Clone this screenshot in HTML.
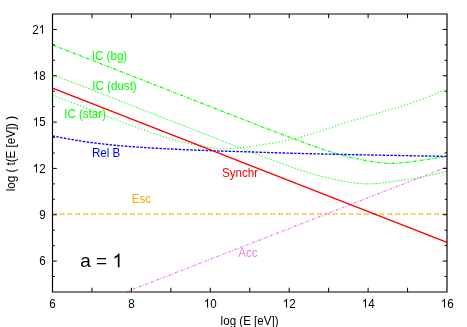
<!DOCTYPE html>
<html><head><meta charset="utf-8"><title>plot</title>
<style>
html,body{margin:0;padding:0;background:#fff;}
body{width:467px;height:327px;overflow:hidden;font-family:"Liberation Sans",sans-serif;}
svg{display:block;will-change:transform;}
</style></head><body>
<svg width="467" height="327" viewBox="0 0 467 327">
<rect width="467" height="327" fill="#fff"/>
<g fill="none" stroke-linecap="butt" stroke-linejoin="round">
<path d="M52.50,44.86 L53.49,45.24 L54.47,45.63 L55.46,46.01 L56.44,46.40 L57.43,46.78 L58.42,47.17 L59.40,47.56 L60.39,47.94 L61.38,48.33 L62.36,48.71 L63.35,49.10 L64.33,49.48 L65.32,49.87 L66.31,50.26 L67.29,50.64 L68.28,51.03 L69.27,51.41 L70.25,51.80 L71.24,52.18 L72.22,52.57 L73.21,52.96 L74.20,53.34 L75.18,53.73 L76.17,54.11 L77.16,54.50 L78.14,54.88 L79.13,55.27 L80.12,55.65 L81.10,56.04 L82.09,56.43 L83.07,56.81 L84.06,57.20 L85.05,57.58 L86.03,57.97 L87.02,58.35 L88.01,58.74 L88.99,59.13 L89.98,59.51 L90.96,59.90 L91.95,60.28 L92.94,60.67 L93.92,61.05 L94.91,61.44 L95.89,61.83 L96.88,62.21 L97.87,62.60 L98.85,62.98 L99.84,63.37 L100.83,63.75 L101.81,64.14 L102.80,64.53 L103.78,64.91 L104.77,65.30 L105.76,65.68 L106.74,66.07 L107.73,66.45 L108.72,66.84 L109.70,67.23 L110.69,67.61 L111.67,68.00 L112.66,68.38 L113.65,68.77 L114.63,69.15 L115.62,69.54 L116.61,69.93 L117.59,70.31 L118.58,70.70 L119.57,71.08 L120.55,71.47 L121.54,71.85 L122.52,72.24 L123.51,72.63 L124.50,73.01 L125.48,73.40 L126.47,73.78 L127.46,74.17 L128.44,74.55 L129.43,74.94 L130.41,75.33 L131.40,75.71 L132.39,76.10 L133.37,76.48 L134.36,76.87 L135.34,77.25 L136.33,77.64 L137.32,78.03 L138.30,78.41 L139.29,78.80 L140.28,79.18 L141.26,79.57 L142.25,79.95 L143.24,80.34 L144.22,80.73 L145.21,81.11 L146.19,81.50 L147.18,81.88 L148.17,82.27 L149.15,82.65 L150.14,83.04 L151.12,83.43 L152.11,83.81 L153.10,84.20 L154.08,84.58 L155.07,84.97 L156.06,85.35 L157.04,85.74 L158.03,86.12 L159.01,86.51 L160.00,86.90 L160.99,87.28 L161.97,87.67 L162.96,88.05 L163.95,88.44 L164.93,88.82 L165.92,89.21 L166.91,89.60 L167.89,89.98 L168.88,90.37 L169.86,90.75 L170.85,91.14 L171.84,91.52 L172.82,91.91 L173.81,92.30 L174.79,92.68 L175.78,93.07 L176.77,93.45 L177.75,93.84 L178.74,94.22 L179.73,94.61 L180.71,95.00 L181.70,95.38 L182.69,95.77 L183.67,96.15 L184.66,96.54 L185.64,96.92 L186.63,97.31 L187.62,97.70 L188.60,98.08 L189.59,98.47 L190.57,98.85 L191.56,99.24 L192.55,99.62 L193.53,100.01 L194.52,100.40 L195.51,100.78 L196.49,101.17 L197.48,101.55 L198.46,101.94 L199.45,102.32 L200.44,102.71 L201.42,103.10 L202.41,103.48 L203.40,103.87 L204.38,104.25 L205.37,104.64 L206.36,105.02 L207.34,105.41 L208.33,105.80 L209.31,106.18 L210.30,106.57 L211.29,106.95 L212.27,107.34 L213.26,107.72 L214.25,108.11 L215.23,108.50 L216.22,108.88 L217.20,109.27 L218.19,109.65 L219.18,110.04 L220.16,110.42 L221.15,110.81 L222.14,111.19 L223.12,111.58 L224.11,111.97 L225.09,112.35 L226.08,112.74 L227.07,113.12 L228.05,113.51 L229.04,113.89 L230.03,114.28 L231.01,114.67 L232.00,115.05 L232.98,115.44 L233.97,115.82 L234.96,116.21 L235.94,116.59 L236.93,116.98 L237.91,117.37 L238.90,117.75 L239.89,118.14 L240.87,118.52 L241.86,118.91 L242.85,119.29 L243.83,119.68 L244.82,120.07 L245.81,120.45 L246.79,120.84 L247.78,121.22 L248.76,121.61 L249.75,121.99 L250.74,122.38 L251.72,122.77 L252.71,123.15 L253.70,123.54 L254.68,123.92 L255.67,124.31 L256.65,124.69 L257.64,125.08 L258.63,125.47 L259.61,125.85 L260.60,126.23 L261.59,126.62 L262.57,127.00 L263.56,127.38 L264.54,127.76 L265.53,128.14 L266.52,128.53 L267.50,128.90 L268.49,129.28 L269.48,129.66 L270.46,130.04 L271.45,130.42 L272.43,130.79 L273.42,131.17 L274.41,131.55 L275.39,131.92 L276.38,132.30 L277.36,132.67 L278.35,133.04 L279.34,133.42 L280.32,133.79 L281.31,134.16 L282.30,134.53 L283.28,134.90 L284.27,135.28 L285.25,135.65 L286.24,136.02 L287.23,136.38 L288.21,136.75 L289.20,137.12 L290.19,137.49 L291.17,137.86 L292.16,138.23 L293.15,138.59 L294.13,138.96 L295.12,139.32 L296.10,139.69 L297.09,140.06 L298.08,140.42 L299.06,140.79 L300.05,141.15 L301.04,141.51 L302.02,141.88 L303.01,142.24 L303.99,142.60 L304.98,142.97 L305.97,143.33 L306.95,143.69 L307.94,144.05 L308.93,144.41 L309.91,144.78 L310.90,145.14 L311.88,145.50 L312.87,145.85 L313.86,146.20 L314.84,146.55 L315.83,146.90 L316.81,147.24 L317.80,147.58 L318.79,147.92 L319.77,148.26 L320.76,148.59 L321.75,148.92 L322.73,149.25 L323.72,149.57 L324.71,149.90 L325.69,150.22 L326.68,150.54 L327.66,150.85 L328.65,151.17 L329.64,151.48 L330.62,151.79 L331.61,152.10 L332.60,152.41 L333.58,152.71 L334.57,153.02 L335.55,153.32 L336.54,153.62 L337.53,153.92 L338.51,154.21 L339.50,154.49 L340.49,154.77 L341.47,155.04 L342.46,155.30 L343.44,155.56 L344.43,155.82 L345.42,156.06 L346.40,156.31 L347.39,156.55 L348.38,156.78 L349.36,157.01 L350.35,157.24 L351.33,157.47 L352.32,157.69 L353.31,157.91 L354.29,158.12 L355.28,158.34 L356.26,158.55 L357.25,158.77 L358.24,158.98 L359.22,159.19 L360.21,159.40 L361.20,159.61 L362.18,159.81 L363.17,160.01 L364.16,160.20 L365.14,160.39 L366.13,160.57 L367.11,160.75 L368.10,160.92 L369.09,161.08 L370.07,161.25 L371.06,161.41 L372.04,161.56 L373.03,161.71 L374.02,161.86 L375.00,162.00 L375.99,162.14 L376.98,162.28 L377.96,162.41 L378.95,162.53 L379.94,162.65 L380.92,162.77 L381.91,162.88 L382.89,162.98 L383.88,163.07 L384.87,163.15 L385.85,163.22 L386.84,163.29 L387.82,163.34 L388.81,163.38 L389.80,163.40 L390.78,163.41 L391.77,163.40 L392.76,163.38 L393.74,163.35 L394.73,163.30 L395.72,163.25 L396.70,163.19 L397.69,163.12 L398.67,163.04 L399.66,162.96 L400.65,162.87 L401.63,162.78 L402.62,162.69 L403.61,162.60 L404.59,162.51 L405.58,162.42 L406.56,162.32 L407.55,162.22 L408.54,162.11 L409.52,161.99 L410.51,161.86 L411.50,161.73 L412.48,161.60 L413.47,161.46 L414.45,161.32 L415.44,161.17 L416.43,161.02 L417.41,160.88 L418.40,160.73 L419.39,160.58 L420.37,160.44 L421.36,160.30 L422.34,160.15 L423.33,160.01 L424.32,159.87 L425.30,159.73 L426.29,159.59 L427.27,159.45 L428.26,159.30 L429.25,159.16 L430.23,159.02 L431.22,158.87 L432.21,158.72 L433.19,158.57 L434.18,158.42 L435.17,158.27 L436.15,158.11 L437.14,157.95 L438.12,157.79 L439.11,157.63 L440.10,157.46 L441.08,157.28 L442.07,157.11 L443.06,156.93 L444.04,156.74 L445.03,156.55 L446.01,156.36 L447.00,156.16" stroke="#00ff00" stroke-width="1.15" stroke-dasharray="3.6 1.2 1 1.4"/>
<path d="M52.50,74.48 L53.49,74.86 L54.47,75.25 L55.46,75.63 L56.44,76.02 L57.43,76.41 L58.42,76.79 L59.40,77.18 L60.39,77.56 L61.38,77.95 L62.36,78.33 L63.35,78.72 L64.33,79.11 L65.32,79.49 L66.31,79.88 L67.29,80.26 L68.28,80.65 L69.27,81.03 L70.25,81.42 L71.24,81.81 L72.22,82.19 L73.21,82.58 L74.20,82.96 L75.18,83.35 L76.17,83.73 L77.16,84.12 L78.14,84.50 L79.13,84.89 L80.12,85.28 L81.10,85.66 L82.09,86.05 L83.07,86.43 L84.06,86.82 L85.05,87.20 L86.03,87.59 L87.02,87.98 L88.01,88.36 L88.99,88.75 L89.98,89.13 L90.96,89.52 L91.95,89.90 L92.94,90.29 L93.92,90.68 L94.91,91.06 L95.89,91.45 L96.88,91.83 L97.87,92.22 L98.85,92.60 L99.84,92.99 L100.83,93.38 L101.81,93.76 L102.80,94.15 L103.78,94.53 L104.77,94.92 L105.76,95.30 L106.74,95.69 L107.73,96.08 L108.72,96.46 L109.70,96.85 L110.69,97.23 L111.67,97.62 L112.66,98.00 L113.65,98.39 L114.63,98.78 L115.62,99.16 L116.61,99.55 L117.59,99.93 L118.58,100.32 L119.57,100.70 L120.55,101.09 L121.54,101.48 L122.52,101.86 L123.51,102.25 L124.50,102.63 L125.48,103.02 L126.47,103.40 L127.46,103.79 L128.44,104.18 L129.43,104.56 L130.41,104.95 L131.40,105.33 L132.39,105.72 L133.37,106.10 L134.36,106.49 L135.34,106.88 L136.33,107.26 L137.32,107.65 L138.30,108.03 L139.29,108.42 L140.28,108.80 L141.26,109.19 L142.25,109.58 L143.24,109.96 L144.22,110.35 L145.21,110.73 L146.19,111.12 L147.18,111.50 L148.17,111.89 L149.15,112.27 L150.14,112.66 L151.12,113.05 L152.11,113.43 L153.10,113.82 L154.08,114.20 L155.07,114.59 L156.06,114.97 L157.04,115.36 L158.03,115.75 L159.01,116.13 L160.00,116.52 L160.99,116.90 L161.97,117.29 L162.96,117.67 L163.95,118.06 L164.93,118.45 L165.92,118.83 L166.91,119.22 L167.89,119.60 L168.88,119.99 L169.86,120.37 L170.85,120.76 L171.84,121.15 L172.82,121.53 L173.81,121.92 L174.79,122.30 L175.78,122.69 L176.77,123.07 L177.75,123.46 L178.74,123.85 L179.73,124.23 L180.71,124.62 L181.70,125.00 L182.69,125.39 L183.67,125.77 L184.66,126.16 L185.64,126.55 L186.63,126.93 L187.62,127.32 L188.60,127.70 L189.59,128.09 L190.57,128.47 L191.56,128.86 L192.55,129.25 L193.53,129.63 L194.52,130.02 L195.51,130.40 L196.49,130.79 L197.48,131.17 L198.46,131.56 L199.45,131.95 L200.44,132.33 L201.42,132.72 L202.41,133.10 L203.40,133.49 L204.38,133.87 L205.37,134.26 L206.36,134.65 L207.34,135.03 L208.33,135.42 L209.31,135.80 L210.30,136.19 L211.29,136.57 L212.27,136.96 L213.26,137.35 L214.25,137.73 L215.23,138.12 L216.22,138.50 L217.20,138.89 L218.19,139.27 L219.18,139.66 L220.16,140.04 L221.15,140.43 L222.14,140.82 L223.12,141.20 L224.11,141.59 L225.09,141.97 L226.08,142.36 L227.07,142.74 L228.05,143.13 L229.04,143.52 L230.03,143.90 L231.01,144.29 L232.00,144.67 L232.98,145.06 L233.97,145.44 L234.96,145.83 L235.94,146.22 L236.93,146.60 L237.91,146.98 L238.90,147.37 L239.89,147.75 L240.87,148.13 L241.86,148.51 L242.85,148.89 L243.83,149.27 L244.82,149.65 L245.81,150.03 L246.79,150.41 L247.78,150.79 L248.76,151.16 L249.75,151.54 L250.74,151.92 L251.72,152.29 L252.71,152.67 L253.70,153.04 L254.68,153.41 L255.67,153.79 L256.65,154.16 L257.64,154.53 L258.63,154.90 L259.61,155.28 L260.60,155.65 L261.59,156.02 L262.57,156.39 L263.56,156.76 L264.54,157.13 L265.53,157.49 L266.52,157.86 L267.50,158.23 L268.49,158.60 L269.48,158.96 L270.46,159.33 L271.45,159.70 L272.43,160.06 L273.42,160.43 L274.41,160.79 L275.39,161.16 L276.38,161.52 L277.36,161.89 L278.35,162.25 L279.34,162.61 L280.32,162.98 L281.31,163.34 L282.30,163.70 L283.28,164.06 L284.27,164.43 L285.25,164.79 L286.24,165.15 L287.23,165.51 L288.21,165.87 L289.20,166.23 L290.19,166.58 L291.17,166.93 L292.16,167.28 L293.15,167.63 L294.13,167.97 L295.12,168.31 L296.10,168.64 L297.09,168.98 L298.08,169.31 L299.06,169.64 L300.05,169.96 L301.04,170.29 L302.02,170.61 L303.01,170.93 L303.99,171.24 L304.98,171.56 L305.97,171.87 L306.95,172.18 L307.94,172.49 L308.93,172.80 L309.91,173.11 L310.90,173.41 L311.88,173.72 L312.87,174.02 L313.86,174.32 L314.84,174.61 L315.83,174.90 L316.81,175.18 L317.80,175.45 L318.79,175.72 L319.77,175.98 L320.76,176.23 L321.75,176.48 L322.73,176.73 L323.72,176.97 L324.71,177.21 L325.69,177.44 L326.68,177.67 L327.66,177.90 L328.65,178.12 L329.64,178.34 L330.62,178.56 L331.61,178.77 L332.60,178.99 L333.58,179.20 L334.57,179.41 L335.55,179.62 L336.54,179.83 L337.53,180.04 L338.51,180.25 L339.50,180.45 L340.49,180.65 L341.47,180.83 L342.46,181.02 L343.44,181.20 L344.43,181.37 L345.42,181.54 L346.40,181.70 L347.39,181.86 L348.38,182.02 L349.36,182.17 L350.35,182.32 L351.33,182.46 L352.32,182.60 L353.31,182.74 L354.29,182.87 L355.28,183.00 L356.26,183.13 L357.25,183.24 L358.24,183.35 L359.22,183.46 L360.21,183.55 L361.20,183.64 L362.18,183.71 L363.17,183.78 L364.16,183.84 L365.14,183.89 L366.13,183.91 L367.11,183.93 L368.10,183.93 L369.09,183.91 L370.07,183.88 L371.06,183.84 L372.04,183.79 L373.03,183.73 L374.02,183.67 L375.00,183.59 L375.99,183.51 L376.98,183.43 L377.96,183.34 L378.95,183.25 L379.94,183.15 L380.92,183.06 L381.91,182.97 L382.89,182.88 L383.88,182.78 L384.87,182.67 L385.85,182.56 L386.84,182.43 L387.82,182.30 L388.81,182.17 L389.80,182.03 L390.78,181.89 L391.77,181.75 L392.76,181.60 L393.74,181.45 L394.73,181.31 L395.72,181.16 L396.70,181.01 L397.69,180.87 L398.67,180.73 L399.66,180.59 L400.65,180.45 L401.63,180.30 L402.62,180.16 L403.61,180.02 L404.59,179.88 L405.58,179.74 L406.56,179.59 L407.55,179.45 L408.54,179.30 L409.52,179.15 L410.51,179.00 L411.50,178.85 L412.48,178.69 L413.47,178.54 L414.45,178.37 L415.44,178.21 L416.43,178.04 L417.41,177.87 L418.40,177.70 L419.39,177.52 L420.37,177.34 L421.36,177.15 L422.34,176.96 L423.33,176.76 L424.32,176.56 L425.30,176.35 L426.29,176.15 L427.27,175.93 L428.26,175.72 L429.25,175.50 L430.23,175.28 L431.22,175.05 L432.21,174.82 L433.19,174.59 L434.18,174.36 L435.17,174.12 L436.15,173.88 L437.14,173.64 L438.12,173.39 L439.11,173.14 L440.10,172.89 L441.08,172.63 L442.07,172.38 L443.06,172.12 L444.04,171.85 L445.03,171.59 L446.01,171.32 L447.00,171.05" stroke="#00ff00" stroke-width="0.8" stroke-dasharray="1.9 1.3"/>
<path d="M52.50,95.00 L53.49,95.38 L54.47,95.77 L55.46,96.15 L56.44,96.54 L57.43,96.92 L58.42,97.31 L59.40,97.70 L60.39,98.08 L61.38,98.47 L62.36,98.85 L63.35,99.24 L64.33,99.62 L65.32,100.01 L66.31,100.40 L67.29,100.78 L68.28,101.17 L69.27,101.55 L70.25,101.94 L71.24,102.32 L72.22,102.71 L73.21,103.10 L74.20,103.48 L75.18,103.87 L76.17,104.25 L77.16,104.64 L78.14,105.02 L79.13,105.41 L80.12,105.80 L81.10,106.18 L82.09,106.57 L83.07,106.95 L84.06,107.34 L85.05,107.72 L86.03,108.11 L87.02,108.50 L88.01,108.88 L88.99,109.27 L89.98,109.65 L90.96,110.04 L91.95,110.42 L92.94,110.81 L93.92,111.19 L94.91,111.58 L95.89,111.96 L96.88,112.34 L97.87,112.73 L98.85,113.11 L99.84,113.49 L100.83,113.87 L101.81,114.25 L102.80,114.63 L103.78,115.01 L104.77,115.38 L105.76,115.76 L106.74,116.14 L107.73,116.51 L108.72,116.89 L109.70,117.27 L110.69,117.64 L111.67,118.01 L112.66,118.39 L113.65,118.76 L114.63,119.13 L115.62,119.51 L116.61,119.88 L117.59,120.25 L118.58,120.62 L119.57,120.99 L120.55,121.36 L121.54,121.73 L122.52,122.10 L123.51,122.47 L124.50,122.83 L125.48,123.20 L126.47,123.57 L127.46,123.94 L128.44,124.30 L129.43,124.67 L130.41,125.03 L131.40,125.40 L132.39,125.76 L133.37,126.13 L134.36,126.49 L135.34,126.86 L136.33,127.22 L137.32,127.58 L138.30,127.95 L139.29,128.31 L140.28,128.67 L141.26,129.03 L142.25,129.40 L143.24,129.76 L144.22,130.12 L145.21,130.48 L146.19,130.84 L147.18,131.19 L148.17,131.55 L149.15,131.90 L150.14,132.24 L151.12,132.59 L152.11,132.93 L153.10,133.27 L154.08,133.60 L155.07,133.93 L156.06,134.26 L157.04,134.59 L158.03,134.92 L159.01,135.24 L160.00,135.56 L160.99,135.88 L161.97,136.20 L162.96,136.51 L163.95,136.82 L164.93,137.13 L165.92,137.44 L166.91,137.75 L167.89,138.06 L168.88,138.36 L169.86,138.66 L170.85,138.96 L171.84,139.26 L172.82,139.55 L173.81,139.84 L174.79,140.11 L175.78,140.38 L176.77,140.65 L177.75,140.91 L178.74,141.16 L179.73,141.41 L180.71,141.65 L181.70,141.89 L182.69,142.13 L183.67,142.36 L184.66,142.59 L185.64,142.81 L186.63,143.03 L187.62,143.25 L188.60,143.47 L189.59,143.68 L190.57,143.90 L191.56,144.11 L192.55,144.32 L193.53,144.53 L194.52,144.74 L195.51,144.95 L196.49,145.16 L197.48,145.35 L198.46,145.55 L199.45,145.73 L200.44,145.91 L201.42,146.09 L202.41,146.26 L203.40,146.43 L204.38,146.59 L205.37,146.75 L206.36,146.90 L207.34,147.05 L208.33,147.20 L209.31,147.34 L210.30,147.48 L211.29,147.62 L212.27,147.75 L213.26,147.88 L214.25,148.00 L215.23,148.11 L216.22,148.22 L217.20,148.32 L218.19,148.41 L219.18,148.49 L220.16,148.57 L221.15,148.63 L222.14,148.68 L223.12,148.72 L224.11,148.75 L225.09,148.75 L226.08,148.75 L227.07,148.73 L228.05,148.69 L229.04,148.65 L230.03,148.59 L231.01,148.53 L232.00,148.46 L232.98,148.38 L233.97,148.30 L234.96,148.21 L235.94,148.13 L236.93,148.03 L237.91,147.94 L238.90,147.85 L239.89,147.76 L240.87,147.66 L241.86,147.56 L242.85,147.45 L243.83,147.33 L244.82,147.21 L245.81,147.08 L246.79,146.94 L247.78,146.80 L248.76,146.66 L249.75,146.51 L250.74,146.37 L251.72,146.22 L252.71,146.07 L253.70,145.93 L254.68,145.78 L255.67,145.64 L256.65,145.50 L257.64,145.36 L258.63,145.21 L259.61,145.07 L260.60,144.93 L261.59,144.79 L262.57,144.65 L263.56,144.50 L264.54,144.36 L265.53,144.21 L266.52,144.07 L267.50,143.92 L268.49,143.76 L269.48,143.61 L270.46,143.45 L271.45,143.30 L272.43,143.13 L273.42,142.97 L274.41,142.80 L275.39,142.63 L276.38,142.45 L277.36,142.27 L278.35,142.09 L279.34,141.90 L280.32,141.70 L281.31,141.50 L282.30,141.30 L283.28,141.10 L284.27,140.89 L285.25,140.67 L286.24,140.46 L287.23,140.24 L288.21,140.01 L289.20,139.79 L290.19,139.56 L291.17,139.32 L292.16,139.09 L293.15,138.85 L294.13,138.61 L295.12,138.36 L296.10,138.11 L297.09,137.86 L298.08,137.61 L299.06,137.35 L300.05,137.10 L301.04,136.84 L302.02,136.57 L303.01,136.31 L303.99,136.04 L304.98,135.77 L305.97,135.50 L306.95,135.23 L307.94,134.95 L308.93,134.67 L309.91,134.39 L310.90,134.11 L311.88,133.82 L312.87,133.53 L313.86,133.23 L314.84,132.93 L315.83,132.62 L316.81,132.31 L317.80,131.99 L318.79,131.67 L319.77,131.35 L320.76,131.02 L321.75,130.69 L322.73,130.36 L323.72,130.03 L324.71,129.69 L325.69,129.36 L326.68,129.02 L327.66,128.68 L328.65,128.34 L329.64,128.00 L330.62,127.66 L331.61,127.32 L332.60,126.98 L333.58,126.64 L334.57,126.30 L335.55,125.97 L336.54,125.63 L337.53,125.30 L338.51,124.97 L339.50,124.64 L340.49,124.31 L341.47,123.99 L342.46,123.67 L343.44,123.36 L344.43,123.04 L345.42,122.74 L346.40,122.43 L347.39,122.13 L348.38,121.82 L349.36,121.52 L350.35,121.23 L351.33,120.93 L352.32,120.63 L353.31,120.34 L354.29,120.04 L355.28,119.75 L356.26,119.46 L357.25,119.17 L358.24,118.88 L359.22,118.59 L360.21,118.30 L361.20,118.02 L362.18,117.73 L363.17,117.45 L364.16,117.16 L365.14,116.87 L366.13,116.59 L367.11,116.30 L368.10,116.02 L369.09,115.73 L370.07,115.45 L371.06,115.16 L372.04,114.88 L373.03,114.59 L374.02,114.31 L375.00,114.02 L375.99,113.73 L376.98,113.44 L377.96,113.15 L378.95,112.86 L379.94,112.57 L380.92,112.28 L381.91,111.99 L382.89,111.69 L383.88,111.40 L384.87,111.10 L385.85,110.80 L386.84,110.51 L387.82,110.21 L388.81,109.92 L389.80,109.63 L390.78,109.33 L391.77,109.04 L392.76,108.75 L393.74,108.46 L394.73,108.17 L395.72,107.88 L396.70,107.59 L397.69,107.30 L398.67,107.00 L399.66,106.71 L400.65,106.41 L401.63,106.11 L402.62,105.81 L403.61,105.51 L404.59,105.21 L405.58,104.90 L406.56,104.59 L407.55,104.28 L408.54,103.96 L409.52,103.64 L410.51,103.32 L411.50,102.99 L412.48,102.66 L413.47,102.33 L414.45,101.99 L415.44,101.65 L416.43,101.30 L417.41,100.94 L418.40,100.58 L419.39,100.22 L420.37,99.85 L421.36,99.48 L422.34,99.10 L423.33,98.72 L424.32,98.33 L425.30,97.95 L426.29,97.56 L427.27,97.16 L428.26,96.77 L429.25,96.37 L430.23,95.97 L431.22,95.57 L432.21,95.17 L433.19,94.76 L434.18,94.36 L435.17,93.95 L436.15,93.55 L437.14,93.14 L438.12,92.74 L439.11,92.33 L440.10,91.93 L441.08,91.52 L442.07,91.12 L443.06,90.72 L444.04,90.32 L445.03,89.92 L446.01,89.53 L447.00,89.13" stroke="#00ff00" stroke-width="1.1" stroke-dasharray="1.05 2.22"/>
<path d="M52.50,135.88 L53.49,136.08 L54.47,136.28 L55.46,136.48 L56.44,136.68 L57.43,136.88 L58.42,137.07 L59.40,137.27 L60.39,137.46 L61.38,137.65 L62.36,137.84 L63.35,138.03 L64.33,138.22 L65.32,138.40 L66.31,138.58 L67.29,138.77 L68.28,138.95 L69.27,139.12 L70.25,139.30 L71.24,139.47 L72.22,139.64 L73.21,139.81 L74.20,139.98 L75.18,140.15 L76.17,140.31 L77.16,140.47 L78.14,140.63 L79.13,140.79 L80.12,140.94 L81.10,141.10 L82.09,141.25 L83.07,141.39 L84.06,141.54 L85.05,141.68 L86.03,141.82 L87.02,141.96 L88.01,142.10 L88.99,142.23 L89.98,142.36 L90.96,142.49 L91.95,142.61 L92.94,142.74 L93.92,142.87 L94.91,142.99 L95.89,143.11 L96.88,143.23 L97.87,143.36 L98.85,143.47 L99.84,143.59 L100.83,143.71 L101.81,143.83 L102.80,143.94 L103.78,144.05 L104.77,144.17 L105.76,144.28 L106.74,144.39 L107.73,144.49 L108.72,144.60 L109.70,144.71 L110.69,144.81 L111.67,144.91 L112.66,145.01 L113.65,145.11 L114.63,145.21 L115.62,145.31 L116.61,145.40 L117.59,145.50 L118.58,145.59 L119.57,145.68 L120.55,145.77 L121.54,145.86 L122.52,145.94 L123.51,146.03 L124.50,146.11 L125.48,146.19 L126.47,146.27 L127.46,146.35 L128.44,146.42 L129.43,146.50 L130.41,146.57 L131.40,146.64 L132.39,146.71 L133.37,146.78 L134.36,146.85 L135.34,146.92 L136.33,146.99 L137.32,147.05 L138.30,147.12 L139.29,147.19 L140.28,147.25 L141.26,147.32 L142.25,147.38 L143.24,147.45 L144.22,147.51 L145.21,147.57 L146.19,147.63 L147.18,147.69 L148.17,147.75 L149.15,147.81 L150.14,147.87 L151.12,147.93 L152.11,147.99 L153.10,148.05 L154.08,148.10 L155.07,148.16 L156.06,148.22 L157.04,148.27 L158.03,148.33 L159.01,148.38 L160.00,148.43 L160.99,148.49 L161.97,148.54 L162.96,148.59 L163.95,148.64 L164.93,148.70 L165.92,148.75 L166.91,148.80 L167.89,148.85 L168.88,148.90 L169.86,148.95 L170.85,148.99 L171.84,149.04 L172.82,149.09 L173.81,149.14 L174.79,149.18 L175.78,149.23 L176.77,149.28 L177.75,149.32 L178.74,149.37 L179.73,149.41 L180.71,149.46 L181.70,149.50 L182.69,149.55 L183.67,149.59 L184.66,149.64 L185.64,149.68 L186.63,149.72 L187.62,149.76 L188.60,149.81 L189.59,149.85 L190.57,149.89 L191.56,149.93 L192.55,149.97 L193.53,150.02 L194.52,150.06 L195.51,150.10 L196.49,150.14 L197.48,150.18 L198.46,150.22 L199.45,150.26 L200.44,150.29 L201.42,150.33 L202.41,150.37 L203.40,150.41 L204.38,150.44 L205.37,150.48 L206.36,150.52 L207.34,150.55 L208.33,150.59 L209.31,150.62 L210.30,150.66 L211.29,150.69 L212.27,150.73 L213.26,150.76 L214.25,150.80 L215.23,150.83 L216.22,150.86 L217.20,150.90 L218.19,150.93 L219.18,150.96 L220.16,150.99 L221.15,151.02 L222.14,151.06 L223.12,151.09 L224.11,151.12 L225.09,151.15 L226.08,151.18 L227.07,151.21 L228.05,151.25 L229.04,151.28 L230.03,151.31 L231.01,151.34 L232.00,151.37 L232.98,151.40 L233.97,151.43 L234.96,151.46 L235.94,151.49 L236.93,151.52 L237.91,151.55 L238.90,151.58 L239.89,151.61 L240.87,151.64 L241.86,151.67 L242.85,151.70 L243.83,151.73 L244.82,151.76 L245.81,151.79 L246.79,151.82 L247.78,151.85 L248.76,151.89 L249.75,151.92 L250.74,151.95 L251.72,151.98 L252.71,152.01 L253.70,152.04 L254.68,152.07 L255.67,152.10 L256.65,152.14 L257.64,152.17 L258.63,152.20 L259.61,152.23 L260.60,152.26 L261.59,152.30 L262.57,152.33 L263.56,152.36 L264.54,152.39 L265.53,152.42 L266.52,152.46 L267.50,152.49 L268.49,152.52 L269.48,152.55 L270.46,152.59 L271.45,152.62 L272.43,152.65 L273.42,152.68 L274.41,152.71 L275.39,152.75 L276.38,152.78 L277.36,152.81 L278.35,152.84 L279.34,152.87 L280.32,152.90 L281.31,152.93 L282.30,152.96 L283.28,153.00 L284.27,153.03 L285.25,153.06 L286.24,153.09 L287.23,153.11 L288.21,153.14 L289.20,153.17 L290.19,153.20 L291.17,153.23 L292.16,153.26 L293.15,153.29 L294.13,153.31 L295.12,153.34 L296.10,153.37 L297.09,153.39 L298.08,153.42 L299.06,153.45 L300.05,153.47 L301.04,153.50 L302.02,153.52 L303.01,153.55 L303.99,153.57 L304.98,153.60 L305.97,153.62 L306.95,153.64 L307.94,153.67 L308.93,153.69 L309.91,153.72 L310.90,153.74 L311.88,153.76 L312.87,153.79 L313.86,153.81 L314.84,153.83 L315.83,153.85 L316.81,153.88 L317.80,153.90 L318.79,153.92 L319.77,153.94 L320.76,153.97 L321.75,153.99 L322.73,154.01 L323.72,154.03 L324.71,154.05 L325.69,154.08 L326.68,154.10 L327.66,154.12 L328.65,154.14 L329.64,154.16 L330.62,154.18 L331.61,154.20 L332.60,154.22 L333.58,154.24 L334.57,154.26 L335.55,154.29 L336.54,154.31 L337.53,154.33 L338.51,154.35 L339.50,154.37 L340.49,154.39 L341.47,154.41 L342.46,154.43 L343.44,154.45 L344.43,154.47 L345.42,154.49 L346.40,154.51 L347.39,154.53 L348.38,154.55 L349.36,154.57 L350.35,154.59 L351.33,154.60 L352.32,154.62 L353.31,154.64 L354.29,154.66 L355.28,154.68 L356.26,154.70 L357.25,154.72 L358.24,154.74 L359.22,154.76 L360.21,154.78 L361.20,154.80 L362.18,154.82 L363.17,154.84 L364.16,154.86 L365.14,154.88 L366.13,154.89 L367.11,154.91 L368.10,154.93 L369.09,154.95 L370.07,154.97 L371.06,154.99 L372.04,155.01 L373.03,155.03 L374.02,155.05 L375.00,155.07 L375.99,155.09 L376.98,155.11 L377.96,155.13 L378.95,155.14 L379.94,155.16 L380.92,155.18 L381.91,155.20 L382.89,155.22 L383.88,155.24 L384.87,155.26 L385.85,155.28 L386.84,155.30 L387.82,155.32 L388.81,155.34 L389.80,155.36 L390.78,155.38 L391.77,155.39 L392.76,155.41 L393.74,155.43 L394.73,155.45 L395.72,155.47 L396.70,155.49 L397.69,155.51 L398.67,155.53 L399.66,155.54 L400.65,155.56 L401.63,155.58 L402.62,155.60 L403.61,155.62 L404.59,155.64 L405.58,155.66 L406.56,155.67 L407.55,155.69 L408.54,155.71 L409.52,155.73 L410.51,155.75 L411.50,155.77 L412.48,155.78 L413.47,155.80 L414.45,155.82 L415.44,155.84 L416.43,155.86 L417.41,155.87 L418.40,155.89 L419.39,155.91 L420.37,155.93 L421.36,155.95 L422.34,155.96 L423.33,155.98 L424.32,156.00 L425.30,156.02 L426.29,156.04 L427.27,156.05 L428.26,156.07 L429.25,156.09 L430.23,156.11 L431.22,156.12 L432.21,156.14 L433.19,156.16 L434.18,156.18 L435.17,156.19 L436.15,156.21 L437.14,156.23 L438.12,156.24 L439.11,156.26 L440.10,156.28 L441.08,156.30 L442.07,156.31 L443.06,156.33 L444.04,156.35 L445.03,156.36 L446.01,156.38 L447.00,156.40" stroke="#0000ff" stroke-width="1.35" stroke-dasharray="2.5 1.35"/>
<path d="M52.30,214.00 L447.00,214.00" stroke="#ffa500" stroke-width="1.6" stroke-dasharray="1.7 0.9 1.7 3.5" stroke-dashoffset="0"/>
<path d="M127.00,291.70 L447.00,167.00" stroke="#ee82ee" stroke-width="1.2" stroke-dasharray="2.7 1.2 0.9 1.6"/>
<path d="M52.50,88.10 L447.00,242.39" stroke="#ff0000" stroke-width="1.5"/>
</g>
<g stroke="#000" stroke-width="1.15" fill="none">
<path d="M52.50,14.00 L447.00,14.00 L447.00,291.95 L52.50,291.95 Z"/>
<path stroke-width="1" d="M91.95,291.95 v-4.20 M91.95,14.00 v4.20 M131.40,291.95 v-4.20 M131.40,14.00 v4.20 M170.85,291.95 v-4.20 M170.85,14.00 v4.20 M210.30,291.95 v-4.20 M210.30,14.00 v4.20 M249.75,291.95 v-4.20 M249.75,14.00 v4.20 M289.20,291.95 v-4.20 M289.20,14.00 v4.20 M328.65,291.95 v-4.20 M328.65,14.00 v4.20 M368.10,291.95 v-4.20 M368.10,14.00 v4.20 M407.55,291.95 v-4.20 M407.55,14.00 v4.20 M52.50,276.51 h2.30 M447.00,276.51 h-2.30 M52.50,261.07 h4.30 M447.00,261.07 h-4.30 M52.50,245.62 h2.30 M447.00,245.62 h-2.30 M52.50,230.18 h2.30 M447.00,230.18 h-2.30 M52.50,214.74 h4.30 M447.00,214.74 h-4.30 M52.50,199.30 h2.30 M447.00,199.30 h-2.30 M52.50,183.86 h2.30 M447.00,183.86 h-2.30 M52.50,168.42 h4.30 M447.00,168.42 h-4.30 M52.50,152.97 h2.30 M447.00,152.97 h-2.30 M52.50,137.53 h2.30 M447.00,137.53 h-2.30 M52.50,122.09 h4.30 M447.00,122.09 h-4.30 M52.50,106.65 h2.30 M447.00,106.65 h-2.30 M52.50,91.21 h2.30 M447.00,91.21 h-2.30 M52.50,75.77 h4.30 M447.00,75.77 h-4.30 M52.50,60.32 h2.30 M447.00,60.32 h-2.30 M52.50,44.88 h2.30 M447.00,44.88 h-2.30 M52.50,29.44 h4.30 M447.00,29.44 h-4.30"/>
</g>
<g font-family="Liberation Sans, sans-serif" font-size="11.60" fill="#000">
<text transform="translate(52.50,307.60) scale(1,1.060)" text-anchor="middle" xml:space="preserve">6</text>
<text transform="translate(131.40,307.60) scale(1,1.060)" text-anchor="middle" xml:space="preserve">8</text>
<path d="M763 0H583V1147Q518 1085 412.5 1023Q307 961 223 930V1104Q374 1175 487 1276Q600 1377 647 1472H763Z" transform="translate(203.70,307.60) scale(0.00566,-0.00600)" fill="#000"/>
<text transform="translate(210.15,307.60) scale(1,1.060)" xml:space="preserve">0</text>
<path d="M763 0H583V1147Q518 1085 412.5 1023Q307 961 223 930V1104Q374 1175 487 1276Q600 1377 647 1472H763Z" transform="translate(282.70,307.60) scale(0.00566,-0.00600)" fill="#000"/>
<text transform="translate(289.15,307.60) scale(1,1.060)" xml:space="preserve">2</text>
<path d="M763 0H583V1147Q518 1085 412.5 1023Q307 961 223 930V1104Q374 1175 487 1276Q600 1377 647 1472H763Z" transform="translate(361.70,307.60) scale(0.00566,-0.00600)" fill="#000"/>
<text transform="translate(368.15,307.60) scale(1,1.060)" xml:space="preserve">4</text>
<path d="M763 0H583V1147Q518 1085 412.5 1023Q307 961 223 930V1104Q374 1175 487 1276Q600 1377 647 1472H763Z" transform="translate(440.70,307.60) scale(0.00566,-0.00600)" fill="#000"/>
<text transform="translate(447.15,307.60) scale(1,1.060)" xml:space="preserve">6</text>
<text transform="translate(45.60,265.17) scale(1,1.060)" text-anchor="end" xml:space="preserve">6</text>
<text transform="translate(45.60,218.84) scale(1,1.060)" text-anchor="end" xml:space="preserve">9</text>
<path d="M763 0H583V1147Q518 1085 412.5 1023Q307 961 223 930V1104Q374 1175 487 1276Q600 1377 647 1472H763Z" transform="translate(32.70,172.52) scale(0.00566,-0.00600)" fill="#000"/>
<text transform="translate(39.15,172.52) scale(1,1.060)" xml:space="preserve">2</text>
<path d="M763 0H583V1147Q518 1085 412.5 1023Q307 961 223 930V1104Q374 1175 487 1276Q600 1377 647 1472H763Z" transform="translate(32.70,126.19) scale(0.00566,-0.00600)" fill="#000"/>
<text transform="translate(39.15,126.19) scale(1,1.060)" xml:space="preserve">5</text>
<path d="M763 0H583V1147Q518 1085 412.5 1023Q307 961 223 930V1104Q374 1175 487 1276Q600 1377 647 1472H763Z" transform="translate(32.70,79.87) scale(0.00566,-0.00600)" fill="#000"/>
<text transform="translate(39.15,79.87) scale(1,1.060)" xml:space="preserve">8</text>
<text transform="translate(38.70,33.54) scale(1,1.060)" text-anchor="end" xml:space="preserve">2</text>
<path d="M763 0H583V1147Q518 1085 412.5 1023Q307 961 223 930V1104Q374 1175 487 1276Q600 1377 647 1472H763Z" transform="translate(38.70,33.54) scale(0.00566,-0.00600)" fill="#000"/>
<text transform="translate(249.60,324.70) scale(1,1.060)" text-anchor="middle" xml:space="preserve">log (E [eV])</text>
<text transform="translate(15.00,153.60) rotate(-90) scale(1,1.060)" text-anchor="middle" xml:space="preserve">log ( t(E [eV]) )</text>
<text transform="translate(91.80,59.60) scale(1,1.060)" fill="#00ff00" xml:space="preserve">IC (bg)</text>
<text transform="translate(92.30,90.20) scale(1,1.060)" fill="#00ff00" xml:space="preserve">IC (dust)</text>
<text transform="translate(64.20,117.60) scale(1,1.060)" fill="#00ff00" xml:space="preserve">IC (star)</text>
<text transform="translate(91.90,156.80) scale(1,1.060)" fill="#0000ff" xml:space="preserve">Rel B</text>
<text transform="translate(222.00,176.90) scale(1,1.060)" fill="#ff0000" xml:space="preserve">Synchr</text>
<text transform="translate(131.70,202.80) scale(1,1.060)" fill="#ffa500" xml:space="preserve">Esc</text>
<text transform="translate(238.30,256.70) scale(1,1.060)" fill="#ee82ee" xml:space="preserve">Acc</text>
<text x="80.2" y="267.2" font-size="19.0" xml:space="preserve">a = </text>
<path d="M763 0H583V1147Q518 1085 412.5 1023Q307 961 223 930V1104Q374 1175 487 1276Q600 1377 647 1472H763Z" transform="translate(112.42,267.20) scale(0.00928,-0.00928)"/>
</g>
</svg>
</body></html>
